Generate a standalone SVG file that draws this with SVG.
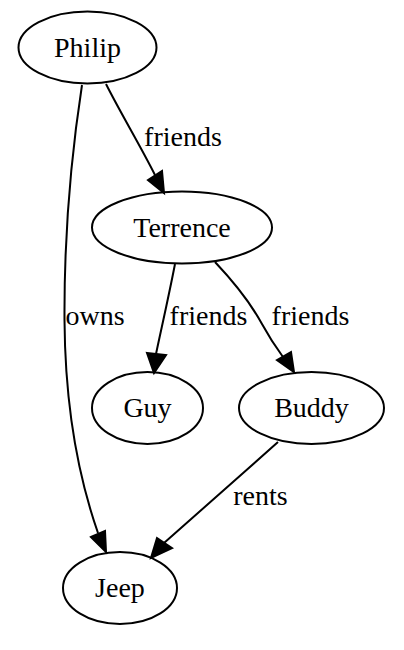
<svg xmlns="http://www.w3.org/2000/svg" width="404" height="650" viewBox="0 0 404 650">
<style>
.n ellipse{fill:none;stroke:#000;stroke-width:2}
text{font-family:"Liberation Serif","Times New Roman",serif;font-size:28px;fill:#000;text-anchor:middle}
.e path{fill:none;stroke:#000;stroke-width:2}
.e polygon{fill:#000;stroke:#000;stroke-width:2}
</style>
<rect width="404" height="650" fill="#fff"/>
<g id="edges" class="e">
<g id="e_philip_terrence">
<path d="M106,84 C120,112 140,145 155,175"/>
<polygon points="148,180 162,171 164,193"/>
<text x="183" y="146">friends</text>
</g>
<g id="e_philip_jeep">
<path d="M82,85 C72,150 64,230 64.5,320 C65,400 76,470 98,533"/>
<polygon points="91,537 105,531 106,552"/>
<text x="95" y="325">owns</text>
</g>
<g id="e_terrence_guy">
<path d="M175,264 C168,300 161,330 156,354"/>
<polygon points="147,353 166,355 154,373"/>
<text x="208.5" y="325">friends</text>
</g>
<g id="e_terrence_buddy">
<path d="M215,262 C232,280 250,302 262,324 C268,335 275,346 283,357"/>
<polygon points="277,360 291,352 294,372"/>
<text x="310.5" y="325">friends</text>
</g>
<g id="e_buddy_jeep">
<path d="M278,442 C240,476 200,511 164,543"/>
<polygon points="157,538 172,548 151,558"/>
<text x="260.5" y="505">rents</text>
</g>
</g>
<g id="Philip" class="n"><ellipse cx="87.5" cy="47.5" rx="69" ry="36"/><text x="87.5" y="56.5">Philip</text></g>
<g id="Terrence" class="n"><ellipse cx="182" cy="227.5" rx="90" ry="36"/><text x="182" y="236.5">Terrence</text></g>
<g id="Guy" class="n"><ellipse cx="147.5" cy="408" rx="55.5" ry="36"/><text x="147.5" y="417">Guy</text></g>
<g id="Buddy" class="n"><ellipse cx="311.5" cy="408" rx="72.5" ry="36"/><text x="311.5" y="417">Buddy</text></g>
<g id="Jeep" class="n"><ellipse cx="120" cy="588" rx="57" ry="36"/><text x="120" y="597">Jeep</text></g>
</svg>
